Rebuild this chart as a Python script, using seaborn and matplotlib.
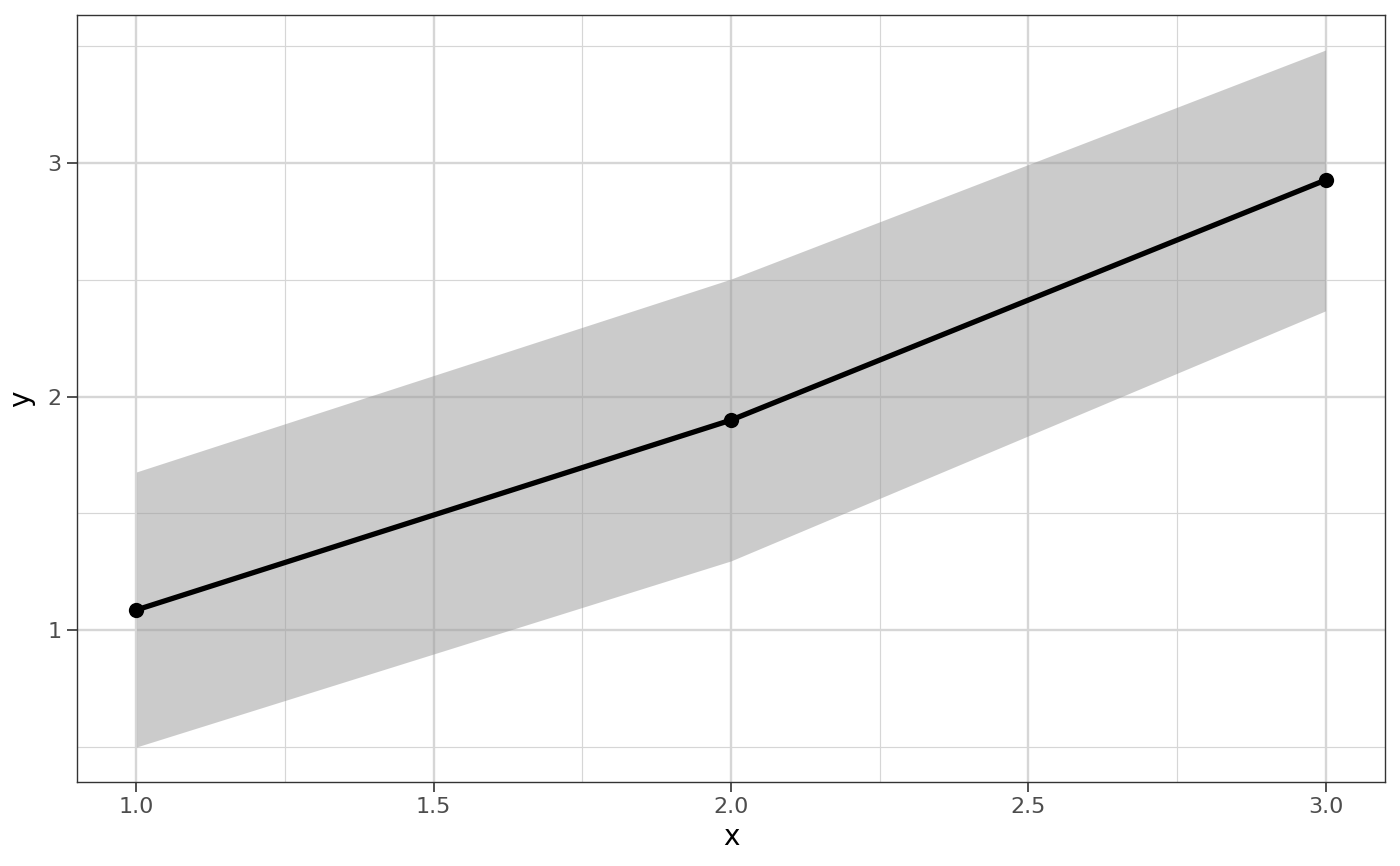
import numpy as np
import pandas as pd
import matplotlib
matplotlib.use('Agg')
import matplotlib.pyplot as plt
import seaborn as sns
from matplotlib.ticker import MultipleLocator

x_vals = [1.0, 2.0, 3.0]
y_vals = [1.086, 1.899, 2.927]
lower = [0.499, 1.296, 2.367]
upper = [1.677, 2.503, 3.484]

df = pd.DataFrame({'x': x_vals, 'y': y_vals, 'lo': lower, 'hi': upper})

sns.set_theme(style='white')
plt.rcParams['font.family'] = ['DejaVu Sans']

fig = plt.figure(figsize=(14, 8.66), dpi=100)
ax = fig.add_axes([77 / 1400, 1 - 782 / 866, (1385 - 77) / 1400, (782 - 15) / 866])

ax.set_xlim(0.9, 3.1)
ax.set_ylim(0.349, 3.634)

ax.xaxis.set_major_locator(MultipleLocator(0.5))
ax.xaxis.set_minor_locator(MultipleLocator(0.25))
ax.yaxis.set_major_locator(MultipleLocator(1))
ax.yaxis.set_minor_locator(MultipleLocator(0.5))
ax.grid(which='major', color='#d6d6d6', linewidth=1.7)
ax.grid(which='minor', color='#d6d6d6', linewidth=0.85)
ax.set_axisbelow(True)

ax.fill_between(df['x'], df['lo'], df['hi'], color='#999999', alpha=0.5, linewidth=0, zorder=2)
sns.lineplot(data=df, x='x', y='y', ax=ax, color='black', linewidth=3.8,
             marker='o', markersize=11, markeredgewidth=0, zorder=3)

ax.xaxis.set_major_formatter(matplotlib.ticker.FormatStrFormatter('%.1f'))
ax.yaxis.set_major_formatter(matplotlib.ticker.FormatStrFormatter('%d'))
ax.tick_params(which='major', length=7, width=1.2, color='#333333', labelcolor='#4d4d4d',
               labelsize=16, bottom=True, left=True, pad=4)
ax.tick_params(which='minor', length=0)
for s in ax.spines.values():
    s.set_color('#333333')
    s.set_linewidth(1.0)

ax.set_xlabel('x', fontsize=20, color='black', labelpad=4)
ax.set_ylabel('y', fontsize=20, color='black', labelpad=9)

fig.savefig('out.png', dpi=100, facecolor='white')
